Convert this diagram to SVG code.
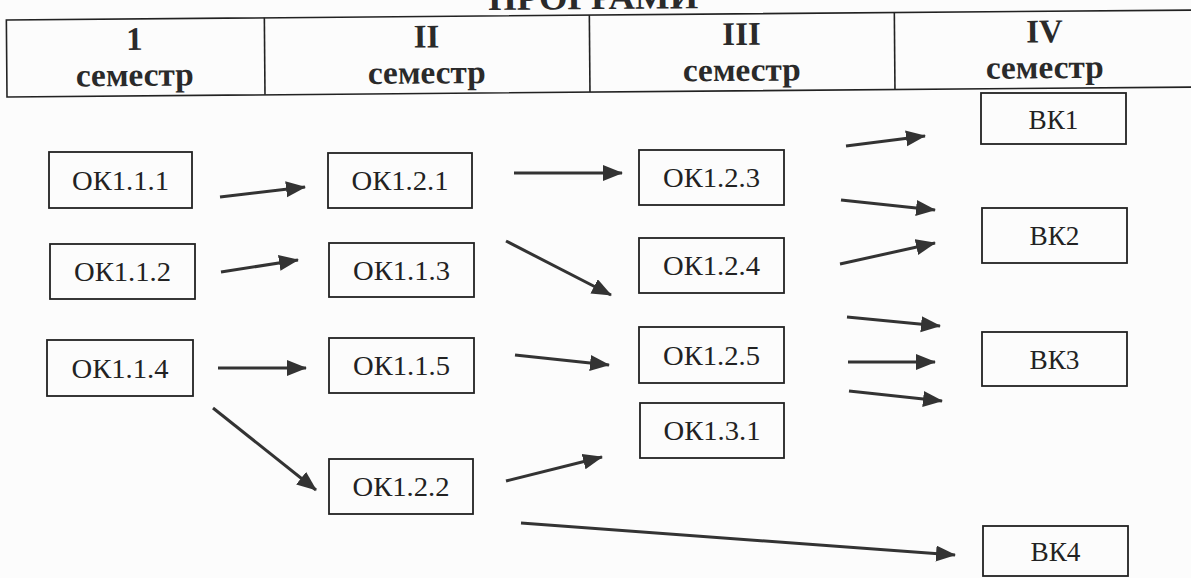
<svg xmlns="http://www.w3.org/2000/svg" width="1191" height="578" viewBox="0 0 1191 578">
<style>
.hdr{font-family:"Liberation Serif","DejaVu Serif","Noto Serif","Times New Roman",serif;font-weight:bold;font-size:33px;fill:#2a2a2a;text-anchor:middle}
.title{font-family:"Liberation Serif","DejaVu Serif","Noto Serif","Times New Roman",serif;font-weight:bold;font-size:34px;fill:#2a2a2a;text-anchor:middle}
.tbl{fill:none;stroke:#222;stroke-width:1.6}
.box rect{fill:none;stroke:#222;stroke-width:1.8}
.box text{font-family:"Liberation Serif","DejaVu Serif","Noto Serif","Times New Roman",serif;font-size:28px;fill:#222;text-anchor:middle}
.conn line{stroke:#333;stroke-width:3}
</style>
<defs>
<marker id="ah" markerUnits="userSpaceOnUse" markerWidth="22" markerHeight="18" refX="19" refY="8" orient="auto">
<path d="M0,0 L20,8 L0,16 Z" fill="#333"/>
</marker>
</defs>
<rect x="0" y="0" width="1191" height="578" fill="#fcfcfc"/>
<g id="header" transform="rotate(-0.48 7 97)">
<text class="title" x="594" y="14" textLength="210" lengthAdjust="spacingAndGlyphs">ПРОГРАМИ</text>
<rect class="tbl" x="7" y="20" width="1200" height="77"/>
<line class="tbl" x1="265" y1="20" x2="265" y2="97"/>
<line class="tbl" x1="590" y1="20" x2="590" y2="97"/>
<line class="tbl" x1="895" y1="20" x2="895" y2="97"/>
<text class="hdr" x="135" y="51">1</text>
<text class="hdr" x="135" y="87" textLength="118" lengthAdjust="spacingAndGlyphs">семестр</text>
<text class="hdr" x="427" y="51">II</text>
<text class="hdr" x="427" y="87" textLength="118" lengthAdjust="spacingAndGlyphs">семестр</text>
<text class="hdr" x="742" y="51">III</text>
<text class="hdr" x="742" y="87" textLength="118" lengthAdjust="spacingAndGlyphs">семестр</text>
<text class="hdr" x="1045" y="51">IV</text>
<text class="hdr" x="1045" y="87" textLength="118" lengthAdjust="spacingAndGlyphs">семестр</text>
</g>
<g id="n111" class="box"><rect x="49" y="152" width="143" height="56"/><text x="120.5" y="190" textLength="97" lengthAdjust="spacingAndGlyphs">ОК1.1.1</text></g>
<g id="n112" class="box"><rect x="50" y="244" width="145" height="55"/><text x="122.5" y="281" textLength="97" lengthAdjust="spacingAndGlyphs">ОК1.1.2</text></g>
<g id="n114" class="box"><rect x="47" y="340" width="146" height="56"/><text x="120" y="378" textLength="97" lengthAdjust="spacingAndGlyphs">ОК1.1.4</text></g>
<g id="n121" class="box"><rect x="328" y="153" width="144" height="55"/><text x="400" y="190" textLength="97" lengthAdjust="spacingAndGlyphs">ОК1.2.1</text></g>
<g id="n113" class="box"><rect x="329" y="243" width="145" height="54"/><text x="401.5" y="280" textLength="97" lengthAdjust="spacingAndGlyphs">ОК1.1.3</text></g>
<g id="n115" class="box"><rect x="329" y="338" width="145" height="55"/><text x="401.5" y="375" textLength="97" lengthAdjust="spacingAndGlyphs">ОК1.1.5</text></g>
<g id="n122" class="box"><rect x="329" y="459" width="144" height="55"/><text x="401" y="496" textLength="97" lengthAdjust="spacingAndGlyphs">ОК1.2.2</text></g>
<g id="n123" class="box"><rect x="639" y="150" width="145" height="55"/><text x="711.5" y="187" textLength="97" lengthAdjust="spacingAndGlyphs">ОК1.2.3</text></g>
<g id="n124" class="box"><rect x="639" y="238" width="145" height="55"/><text x="711.5" y="275" textLength="97" lengthAdjust="spacingAndGlyphs">ОК1.2.4</text></g>
<g id="n125" class="box"><rect x="639" y="327" width="145" height="56"/><text x="711.5" y="365" textLength="97" lengthAdjust="spacingAndGlyphs">ОК1.2.5</text></g>
<g id="n131" class="box"><rect x="640" y="403" width="144" height="55"/><text x="712" y="440" textLength="97" lengthAdjust="spacingAndGlyphs">ОК1.3.1</text></g>
<g id="bk1" class="box"><rect x="981" y="93" width="145" height="51"/><text x="1053.5" y="129" textLength="50" lengthAdjust="spacingAndGlyphs">ВК1</text></g>
<g id="bk2" class="box"><rect x="982" y="208" width="145" height="55"/><text x="1054.5" y="245" textLength="50" lengthAdjust="spacingAndGlyphs">ВК2</text></g>
<g id="bk3" class="box"><rect x="982" y="332" width="145" height="54"/><text x="1054.5" y="369" textLength="50" lengthAdjust="spacingAndGlyphs">ВК3</text></g>
<g id="bk4" class="box"><rect x="983" y="526" width="145" height="50"/><text x="1055.5" y="561" textLength="50" lengthAdjust="spacingAndGlyphs">ВК4</text></g>
<g id="connectors" class="conn">
<line x1="220" y1="197" x2="305" y2="187" marker-end="url(#ah)"/>
<line x1="221" y1="272" x2="298" y2="260" marker-end="url(#ah)"/>
<line x1="218" y1="368" x2="306" y2="368" marker-end="url(#ah)"/>
<line x1="213" y1="408" x2="316" y2="490" marker-end="url(#ah)"/>
<line x1="514" y1="173" x2="622" y2="173" marker-end="url(#ah)"/>
<line x1="506" y1="241" x2="611" y2="295" marker-end="url(#ah)"/>
<line x1="515" y1="355" x2="609" y2="365" marker-end="url(#ah)"/>
<line x1="506" y1="481" x2="602" y2="457" marker-end="url(#ah)"/>
<line x1="846" y1="146" x2="925" y2="136" marker-end="url(#ah)"/>
<line x1="841" y1="200" x2="935" y2="210" marker-end="url(#ah)"/>
<line x1="840" y1="264" x2="935" y2="243" marker-end="url(#ah)"/>
<line x1="847" y1="317" x2="940" y2="326" marker-end="url(#ah)"/>
<line x1="848" y1="362" x2="935" y2="362" marker-end="url(#ah)"/>
<line x1="849" y1="391" x2="942" y2="401" marker-end="url(#ah)"/>
<line x1="521" y1="523" x2="955" y2="555" marker-end="url(#ah)"/>
</g>
</svg>
